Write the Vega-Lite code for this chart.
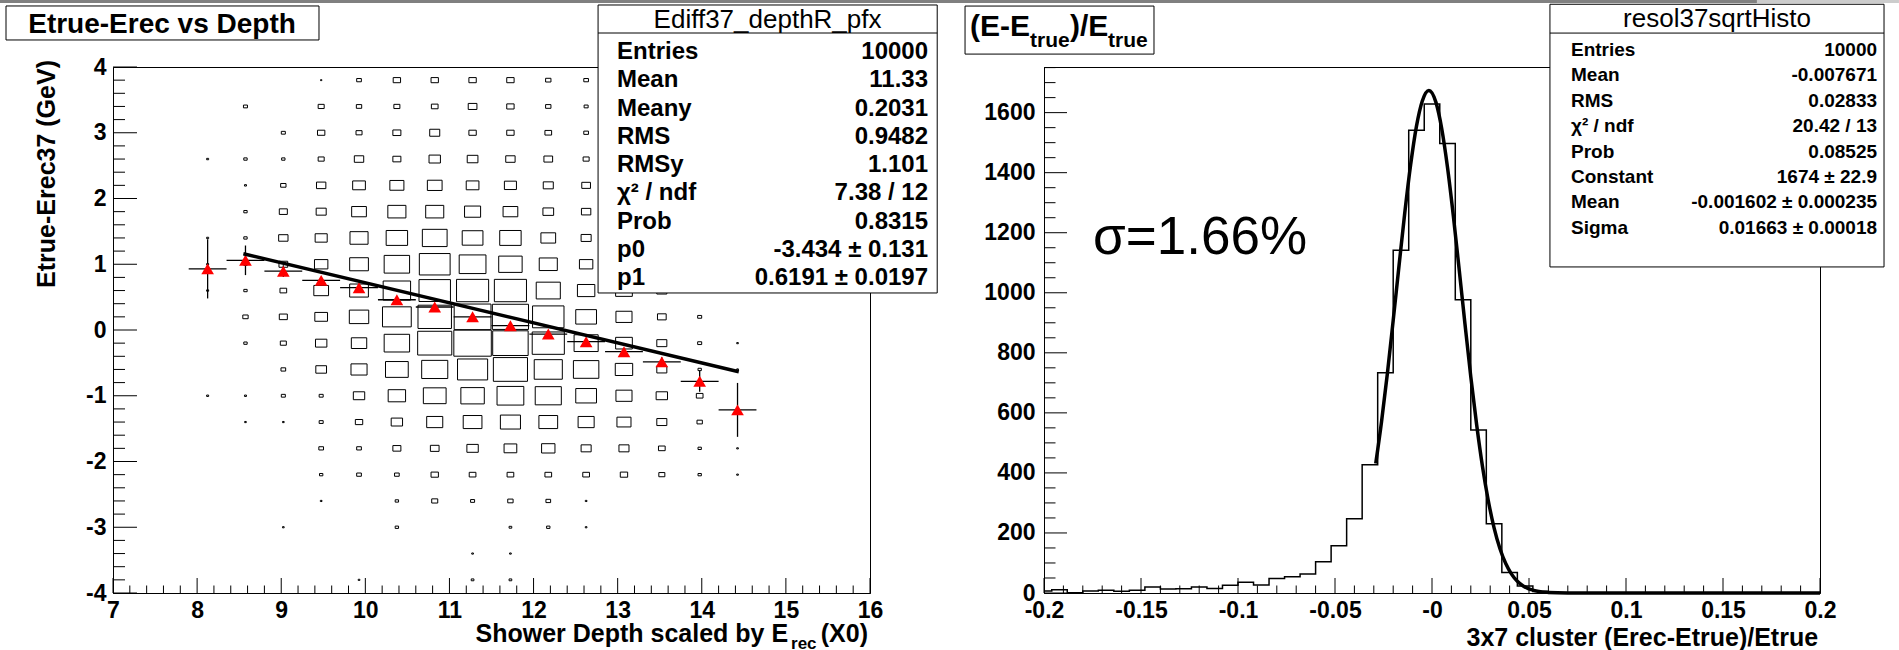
{
  "$schema": "https://vega.github.io/schema/vega-lite/v6.json",
  "autosize": {"type": "none"},
  "padding": {"left": 113, "top": 67, "right": 1786, "bottom": 583},
  "background": "white",
  "bounds": "flush",
  "spacing": 174,
  "config": {
    "view": {"stroke": "#000", "strokeWidth": 1, "fill": "white"},
    "font": "Liberation Sans",
    "axis": {"grid": false, "ticks": false, "domainColor": "#000", "domainWidth": 1, "labelColor": "#000", "labelFont": "Liberation Sans", "labelFontWeight": "bold", "labelFontSize": 23, "labelOverlap": false, "labelFlush": false, "labelBound": false},
    "text": {"font": "Liberation Sans", "fill": "#000"}
  },
  "hconcat": [
    {
      "width": 757, "height": 526,
      "resolve": {"scale": {"y": "independent"}},
      "layer": [
        {
          "layer": [
            {
              "data": {"values": [
                {"x":9.475,"y":3.8,"n":4},{"x":9.925,"y":3.8,"n":14},{"x":10.375,"y":3.8,"n":22},{"x":10.825,"y":3.8,"n":22},{"x":11.275,"y":3.8,"n":22},{"x":11.725,"y":3.8,"n":22},{"x":12.175,"y":3.8,"n":16},{"x":12.625,"y":3.8,"n":14},
                {"x":8.575,"y":3.4,"n":12},{"x":9.475,"y":3.4,"n":18},{"x":9.925,"y":3.4,"n":16},{"x":10.375,"y":3.4,"n":18},{"x":10.825,"y":3.4,"n":20},{"x":11.275,"y":3.4,"n":26},{"x":11.725,"y":3.4,"n":22},{"x":12.175,"y":3.4,"n":16},{"x":12.625,"y":3.4,"n":12},
                {"x":9.025,"y":3.0,"n":12},{"x":9.475,"y":3.0,"n":22},{"x":9.925,"y":3.0,"n":18},{"x":10.375,"y":3.0,"n":24},{"x":10.825,"y":3.0,"n":30},{"x":11.275,"y":3.0,"n":22},{"x":11.725,"y":3.0,"n":22},{"x":12.175,"y":3.0,"n":20},{"x":12.625,"y":3.0,"n":14},
                {"x":8.125,"y":2.6,"n":6},{"x":8.575,"y":2.6,"n":10},{"x":9.025,"y":2.6,"n":10},{"x":9.475,"y":2.6,"n":18},{"x":9.925,"y":2.6,"n":28},{"x":10.375,"y":2.6,"n":24},{"x":10.825,"y":2.6,"n":34},{"x":11.275,"y":2.6,"n":32},{"x":11.725,"y":2.6,"n":28},{"x":12.175,"y":2.6,"n":26},{"x":12.625,"y":2.6,"n":18},
                {"x":8.575,"y":2.2,"n":6},{"x":9.025,"y":2.2,"n":16},{"x":9.475,"y":2.2,"n":28},{"x":9.925,"y":2.2,"n":38},{"x":10.375,"y":2.2,"n":42},{"x":10.825,"y":2.2,"n":44},{"x":11.275,"y":2.2,"n":38},{"x":11.725,"y":2.2,"n":36},{"x":12.175,"y":2.2,"n":30},{"x":12.625,"y":2.2,"n":26},
                {"x":8.575,"y":1.8,"n":10},{"x":9.025,"y":1.8,"n":24},{"x":9.475,"y":1.8,"n":30},{"x":9.925,"y":1.8,"n":44},{"x":10.375,"y":1.8,"n":54},{"x":10.825,"y":1.8,"n":54},{"x":11.275,"y":1.8,"n":48},{"x":11.725,"y":1.8,"n":44},{"x":12.175,"y":1.8,"n":32},{"x":12.625,"y":1.8,"n":28},
                {"x":8.125,"y":1.4,"n":6},{"x":8.575,"y":1.4,"n":10},{"x":9.025,"y":1.4,"n":28},{"x":9.475,"y":1.4,"n":36},{"x":9.925,"y":1.4,"n":54},{"x":10.375,"y":1.4,"n":64},{"x":10.825,"y":1.4,"n":74},{"x":11.275,"y":1.4,"n":62},{"x":11.725,"y":1.4,"n":64},{"x":12.175,"y":1.4,"n":44},{"x":12.625,"y":1.4,"n":30},
                {"x":8.125,"y":1.0,"n":6},{"x":8.575,"y":1.0,"n":10},{"x":9.025,"y":1.0,"n":26},{"x":9.475,"y":1.0,"n":40},{"x":9.925,"y":1.0,"n":56},{"x":10.375,"y":1.0,"n":76},{"x":10.825,"y":1.0,"n":92},{"x":11.275,"y":1.0,"n":80},{"x":11.725,"y":1.0,"n":70},{"x":12.175,"y":1.0,"n":54},{"x":12.625,"y":1.0,"n":40},
                {"x":8.125,"y":0.6,"n":6},{"x":8.575,"y":0.6,"n":10},{"x":9.025,"y":0.6,"n":20},{"x":9.475,"y":0.6,"n":44},{"x":9.925,"y":0.6,"n":56},{"x":10.375,"y":0.6,"n":82},{"x":10.825,"y":0.6,"n":94},{"x":11.275,"y":0.6,"n":96},{"x":11.725,"y":0.6,"n":96},{"x":12.175,"y":0.6,"n":72},{"x":12.625,"y":0.6,"n":52},{"x":13.075,"y":0.6,"n":50},{"x":13.525,"y":0.6,"n":30},{"x":13.975,"y":0.6,"n":12},
                {"x":8.575,"y":0.2,"n":16},{"x":9.025,"y":0.2,"n":24},{"x":9.475,"y":0.2,"n":38},{"x":9.925,"y":0.2,"n":58},{"x":10.375,"y":0.2,"n":86},{"x":10.825,"y":0.2,"n":100},{"x":11.275,"y":0.2,"n":110},{"x":11.725,"y":0.2,"n":108},{"x":12.175,"y":0.2,"n":94},{"x":12.625,"y":0.2,"n":62},{"x":13.075,"y":0.2,"n":48},{"x":13.525,"y":0.2,"n":26},{"x":13.975,"y":0.2,"n":12},
                {"x":8.575,"y":-0.2,"n":10},{"x":9.025,"y":-0.2,"n":18},{"x":9.475,"y":-0.2,"n":34},{"x":9.925,"y":-0.2,"n":46},{"x":10.375,"y":-0.2,"n":76},{"x":10.825,"y":-0.2,"n":102},{"x":11.275,"y":-0.2,"n":112},{"x":11.725,"y":-0.2,"n":106},{"x":12.175,"y":-0.2,"n":96},{"x":12.625,"y":-0.2,"n":72},{"x":13.075,"y":-0.2,"n":50},{"x":13.525,"y":-0.2,"n":30},{"x":13.975,"y":-0.2,"n":12},{"x":14.425,"y":-0.2,"n":5},
                {"x":9.025,"y":-0.6,"n":14},{"x":9.475,"y":-0.6,"n":32},{"x":9.925,"y":-0.6,"n":48},{"x":10.375,"y":-0.6,"n":68},{"x":10.825,"y":-0.6,"n":78},{"x":11.275,"y":-0.6,"n":90},{"x":11.725,"y":-0.6,"n":102},{"x":12.175,"y":-0.6,"n":84},{"x":12.625,"y":-0.6,"n":76},{"x":13.075,"y":-0.6,"n":52},{"x":13.525,"y":-0.6,"n":30},{"x":13.975,"y":-0.6,"n":10},{"x":14.425,"y":-0.6,"n":5},
                {"x":8.125,"y":-1.0,"n":6},{"x":8.575,"y":-1.0,"n":6},{"x":9.025,"y":-1.0,"n":12},{"x":9.475,"y":-1.0,"n":12},{"x":9.925,"y":-1.0,"n":34},{"x":10.375,"y":-1.0,"n":52},{"x":10.825,"y":-1.0,"n":68},{"x":11.275,"y":-1.0,"n":70},{"x":11.725,"y":-1.0,"n":80},{"x":12.175,"y":-1.0,"n":78},{"x":12.625,"y":-1.0,"n":62},{"x":13.075,"y":-1.0,"n":48},{"x":13.525,"y":-1.0,"n":34},{"x":13.975,"y":-1.0,"n":20},
                {"x":8.575,"y":-1.4,"n":5},{"x":9.025,"y":-1.4,"n":5},{"x":9.475,"y":-1.4,"n":12},{"x":9.925,"y":-1.4,"n":22},{"x":10.375,"y":-1.4,"n":34},{"x":10.825,"y":-1.4,"n":48},{"x":11.275,"y":-1.4,"n":56},{"x":11.725,"y":-1.4,"n":60},{"x":12.175,"y":-1.4,"n":56},{"x":12.625,"y":-1.4,"n":48},{"x":13.075,"y":-1.4,"n":42},{"x":13.525,"y":-1.4,"n":30},{"x":13.975,"y":-1.4,"n":16},
                {"x":9.475,"y":-1.8,"n":14},{"x":9.925,"y":-1.8,"n":14},{"x":10.375,"y":-1.8,"n":24},{"x":10.825,"y":-1.8,"n":26},{"x":11.275,"y":-1.8,"n":34},{"x":11.725,"y":-1.8,"n":38},{"x":12.175,"y":-1.8,"n":40},{"x":12.625,"y":-1.8,"n":30},{"x":13.075,"y":-1.8,"n":30},{"x":13.525,"y":-1.8,"n":20},{"x":13.975,"y":-1.8,"n":10},{"x":14.425,"y":-1.8,"n":5},
                {"x":9.475,"y":-2.2,"n":10},{"x":9.925,"y":-2.2,"n":14},{"x":10.375,"y":-2.2,"n":14},{"x":10.825,"y":-2.2,"n":22},{"x":11.275,"y":-2.2,"n":20},{"x":11.725,"y":-2.2,"n":20},{"x":12.175,"y":-2.2,"n":20},{"x":12.625,"y":-2.2,"n":20},{"x":13.075,"y":-2.2,"n":22},{"x":13.525,"y":-2.2,"n":18},{"x":13.975,"y":-2.2,"n":10},{"x":14.425,"y":-2.2,"n":5},
                {"x":9.475,"y":-2.6,"n":5},{"x":10.375,"y":-2.6,"n":10},{"x":10.825,"y":-2.6,"n":18},{"x":11.275,"y":-2.6,"n":12},{"x":11.725,"y":-2.6,"n":16},{"x":12.175,"y":-2.6,"n":14},{"x":12.625,"y":-2.6,"n":5},
                {"x":9.025,"y":-3.0,"n":5},{"x":10.375,"y":-3.0,"n":10},{"x":11.725,"y":-3.0,"n":8},{"x":12.175,"y":-3.0,"n":10},{"x":12.625,"y":-3.0,"n":5},
                {"x":11.275,"y":-3.4,"n":5},{"x":11.725,"y":-3.4,"n":5},
                {"x":9.925,"y":-3.8,"n":5},{"x":11.275,"y":-3.8,"n":8},{"x":11.725,"y":-3.8,"n":8}
              ]},
              "mark": {"type": "point", "shape": "M-1,-0.696H1V0.696H-1Z", "filled": false, "stroke": "#000", "strokeWidth": 1, "opacity": 1},
              "encoding": {
                "x": {"field": "x", "type": "quantitative", "scale": {"domain": [7, 16], "nice": false, "zero": false},
                  "axis": {"title": null, "values": [7,8,9,10,11,12,13,14,15,16], "labelExpr": "''+datum.value", "labelPadding": 6, "labelOverlap": false}},
                "y": {"field": "y", "type": "quantitative", "scale": {"domain": [-4, 4], "nice": false, "zero": false},
                  "axis": {"title": null, "values": [-4,-3,-2,-1,0,1,2,3,4], "labelExpr": "''+datum.value", "labelPadding": 7, "labelOverlap": false}},
                "size": {"field": "n", "type": "quantitative", "scale": {"type": "pow", "exponent": 2, "domain": [0, 113], "range": [0, 1429]}, "legend": null}
              }
            },
            {
              "data": {"values": [{"t":7},{"t":8},{"t":9},{"t":10},{"t":11},{"t":12},{"t":13},{"t":14},{"t":15},{"t":16}]},
              "mark": {"type": "rule", "stroke": "#000", "strokeWidth": 1},
              "encoding": {"x": {"field": "t", "type": "quantitative", "scale": {"domain": [7, 16], "nice": false, "zero": false}}, "y": {"datum": -4, "type": "quantitative", "scale": {"domain": [-4, 4], "nice": false, "zero": false}}, "y2": {"datum": -3.772}}
            },
            {
              "data": {"values": [{"t":7.2},{"t":7.4},{"t":7.6},{"t":7.8},{"t":8.2},{"t":8.4},{"t":8.6},{"t":8.8},{"t":9.2},{"t":9.4},{"t":9.6},{"t":9.8},{"t":10.2},{"t":10.4},{"t":10.6},{"t":10.8},{"t":11.2},{"t":11.4},{"t":11.6},{"t":11.8},{"t":12.2},{"t":12.4},{"t":12.6},{"t":12.8},{"t":13.2},{"t":13.4},{"t":13.6},{"t":13.8},{"t":14.2},{"t":14.4},{"t":14.6},{"t":14.8},{"t":15.2},{"t":15.4},{"t":15.6},{"t":15.8}]},
              "mark": {"type": "rule", "stroke": "#000", "strokeWidth": 1},
              "encoding": {"x": {"field": "t", "type": "quantitative", "scale": {"domain": [7, 16], "nice": false, "zero": false}}, "y": {"datum": -4, "type": "quantitative", "scale": {"domain": [-4, 4], "nice": false, "zero": false}}, "y2": {"datum": -3.886}}
            },
            {
              "data": {"values": [{"t":-4},{"t":-3},{"t":-2},{"t":-1},{"t":0},{"t":1},{"t":2},{"t":3},{"t":4}]},
              "mark": {"type": "rule", "stroke": "#000", "strokeWidth": 1},
              "encoding": {"y": {"field": "t", "type": "quantitative", "scale": {"domain": [-4, 4], "nice": false, "zero": false}}, "x": {"datum": 7, "type": "quantitative", "scale": {"domain": [7, 16], "nice": false, "zero": false}}, "x2": {"datum": 7.2853}}
            },
            {
              "data": {"values": [{"t":-3.8},{"t":-3.6},{"t":-3.4},{"t":-3.2},{"t":-2.8},{"t":-2.6},{"t":-2.4},{"t":-2.2},{"t":-1.8},{"t":-1.6},{"t":-1.4},{"t":-1.2},{"t":-0.8},{"t":-0.6},{"t":-0.4},{"t":-0.2},{"t":0.2},{"t":0.4},{"t":0.6},{"t":0.8},{"t":1.2},{"t":1.4},{"t":1.6},{"t":1.8},{"t":2.2},{"t":2.4},{"t":2.6},{"t":2.8},{"t":3.2},{"t":3.4},{"t":3.6},{"t":3.8}]},
              "mark": {"type": "rule", "stroke": "#000", "strokeWidth": 1},
              "encoding": {"y": {"field": "t", "type": "quantitative", "scale": {"domain": [-4, 4], "nice": false, "zero": false}}, "x": {"datum": 7, "type": "quantitative", "scale": {"domain": [7, 16], "nice": false, "zero": false}}, "x2": {"datum": 7.1427}}
            },
            {
              "data": {"values": [
                {"x":8.125,"y":0.93,"xlo":7.9,"xhi":8.35,"ylo":0.48,"yhi":1.38},
                {"x":8.575,"y":1.06,"xlo":8.35,"xhi":8.8,"ylo":0.835,"yhi":1.285},
                {"x":9.025,"y":0.895,"xlo":8.8,"xhi":9.25,"ylo":0.805,"yhi":0.985},
                {"x":9.475,"y":0.755,"xlo":9.25,"xhi":9.7,"ylo":0.705,"yhi":0.805},
                {"x":9.925,"y":0.643,"xlo":9.7,"xhi":10.15,"ylo":0.603,"yhi":0.683},
                {"x":10.375,"y":0.46,"xlo":10.15,"xhi":10.6,"ylo":0.43,"yhi":0.49},
                {"x":10.825,"y":0.35,"xlo":10.6,"xhi":11.05,"ylo":0.32,"yhi":0.38},
                {"x":11.275,"y":0.2,"xlo":11.05,"xhi":11.5,"ylo":0.17,"yhi":0.23},
                {"x":11.725,"y":0.066,"xlo":11.5,"xhi":11.95,"ylo":0.036,"yhi":0.096},
                {"x":12.175,"y":-0.062,"xlo":11.95,"xhi":12.4,"ylo":-0.092,"yhi":-0.032},
                {"x":12.625,"y":-0.178,"xlo":12.4,"xhi":12.85,"ylo":-0.218,"yhi":-0.138},
                {"x":13.075,"y":-0.33,"xlo":12.85,"xhi":13.3,"ylo":-0.38,"yhi":-0.28},
                {"x":13.525,"y":-0.485,"xlo":13.3,"xhi":13.75,"ylo":-0.555,"yhi":-0.415},
                {"x":13.975,"y":-0.78,"xlo":13.75,"xhi":14.2,"ylo":-0.94,"yhi":-0.62},
                {"x":14.425,"y":-1.215,"xlo":14.2,"xhi":14.65,"ylo":-1.625,"yhi":-0.805}
              ]},
              "layer": [
                {"mark": {"type": "rule", "stroke": "#000", "strokeWidth": 1.3},
                 "encoding": {"x": {"field": "xlo", "type": "quantitative", "scale": {"domain": [7, 16], "nice": false, "zero": false}}, "x2": {"field": "xhi"}, "y": {"field": "y", "type": "quantitative", "scale": {"domain": [-4, 4], "nice": false, "zero": false}}}},
                {"mark": {"type": "rule", "stroke": "#000", "strokeWidth": 1.3},
                 "encoding": {"x": {"field": "x", "type": "quantitative", "scale": {"domain": [7, 16], "nice": false, "zero": false}}, "y": {"field": "ylo", "type": "quantitative", "scale": {"domain": [-4, 4], "nice": false, "zero": false}}, "y2": {"field": "yhi"}}},
                {"mark": {"type": "point", "shape": "triangle-up", "filled": true, "fill": "#ff0000", "strokeWidth": 0, "size": 160, "opacity": 1},
                 "encoding": {"x": {"field": "x", "type": "quantitative", "scale": {"domain": [7, 16], "nice": false, "zero": false}}, "y": {"field": "y", "type": "quantitative", "scale": {"domain": [-4, 4], "nice": false, "zero": false}}}}
              ]
            },
            {
              "data": {"values": [{"x": 8.55, "y": 1.16}, {"x": 14.44, "y": -0.635}]},
              "mark": {"type": "line", "stroke": "#000", "strokeWidth": 3.5},
              "encoding": {"x": {"field": "x", "type": "quantitative", "scale": {"domain": [7, 16], "nice": false, "zero": false}}, "y": {"field": "y", "type": "quantitative", "scale": {"domain": [-4, 4], "nice": false, "zero": false}}}
            },
            {
              "data": {"values": [{}]},
              "layer": [
                {"mark": {"type": "rect", "fill": "#808080", "strokeWidth": 0},
                 "encoding": {"x": {"datum": 5.6565, "type": "quantitative", "scale": {"domain": [7, 16], "nice": false, "zero": false}}, "x2": {"datum": 16.844}, "y": {"datum": 5.019, "type": "quantitative", "scale": {"domain": [-4, 4], "nice": false, "zero": false}}, "y2": {"datum": 4.973}}},
                {"mark": {"type": "rect", "fill": "#fff", "stroke": "#000", "strokeWidth": 1},
                 "encoding": {"x": {"datum": 12.767, "type": "quantitative"}, "x2": {"datum": 16.799}, "y": {"datum": 4.943, "type": "quantitative"}, "y2": {"datum": 0.563}}},
                {"mark": {"type": "rule", "stroke": "#000", "strokeWidth": 1},
                 "encoding": {"x": {"datum": 12.767, "type": "quantitative"}, "x2": {"datum": 16.799}, "y": {"datum": 4.517, "type": "quantitative"}}},
                {"mark": {"type": "text", "text": "Ediff37_depthR_pfx", "fontSize": 26, "align": "center", "baseline": "alphabetic"},
                 "encoding": {"x": {"datum": 14.782, "type": "quantitative"}, "y": {"datum": 4.593, "type": "quantitative"}}},
                {"mark": {"type": "rect", "fill": "#fff", "stroke": "#000", "strokeWidth": 1},
                 "encoding": {"x": {"datum": 5.728, "type": "quantitative"}, "x2": {"datum": 9.449}, "y": {"datum": 4.928, "type": "quantitative"}, "y2": {"datum": 4.411}}},
                {"mark": {"type": "text", "text": "Etrue-Erec vs Depth", "fontSize": 28, "fontWeight": "bold", "align": "center", "baseline": "alphabetic"},
                 "encoding": {"x": {"datum": 7.583, "type": "quantitative"}, "y": {"datum": 4.517, "type": "quantitative"}}},
                {"mark": {"type": "text", "text": "Shower Depth scaled by E", "fontSize": 25, "fontWeight": "bold", "align": "right", "baseline": "alphabetic"},
                 "encoding": {"x": {"datum": 15.026, "type": "quantitative"}, "y": {"datum": -4.74, "type": "quantitative"}}},
                {"mark": {"type": "text", "text": "rec", "fontSize": 17, "fontWeight": "bold", "align": "left", "baseline": "alphabetic"},
                 "encoding": {"x": {"datum": 15.061, "type": "quantitative"}, "y": {"datum": -4.855, "type": "quantitative"}}},
                {"mark": {"type": "text", "text": "(X0)", "fontSize": 25, "fontWeight": "bold", "align": "right", "baseline": "alphabetic"},
                 "encoding": {"x": {"datum": 15.976, "type": "quantitative"}, "y": {"datum": -4.74, "type": "quantitative"}}},
                {"mark": {"type": "text", "text": "Etrue-Erec37 (GeV)", "fontSize": 25, "fontWeight": "bold", "align": "right", "baseline": "alphabetic", "angle": 270},
                 "encoding": {"x": {"datum": 6.31, "type": "quantitative"}, "y": {"datum": 4.106, "type": "quantitative"}}}
              ]
            }
          ]
        },
        {
          "data": {"values": [
            {"i": 0, "label": "Entries", "value": "10000"},
            {"i": 1, "label": "Mean", "value": "11.33"},
            {"i": 2, "label": "Meany", "value": "0.2031"},
            {"i": 3, "label": "RMS", "value": "0.9482"},
            {"i": 4, "label": "RMSy", "value": "1.101"},
            {"i": 5, "label": "χ² / ndf", "value": "7.38 / 12"},
            {"i": 6, "label": "Prob", "value": "0.8315"},
            {"i": 7, "label": "p0", "value": "-3.434 ± 0.131"},
            {"i": 8, "label": "p1", "value": "0.6191 ± 0.0197"}
          ]},
          "layer": [
            {"mark": {"type": "text", "fontSize": 24, "fontWeight": "bold", "align": "left", "baseline": "middle"},
             "encoding": {"x": {"datum": 12.992, "type": "quantitative", "scale": {"domain": [7, 16], "nice": false, "zero": false}}, "y": {"field": "i", "type": "quantitative", "scale": {"domain": [0.531, 19.15], "reverse": true, "nice": false, "zero": false}, "axis": null}, "text": {"field": "label"}}},
            {"mark": {"type": "text", "fontSize": 24, "fontWeight": "bold", "align": "right", "baseline": "middle"},
             "encoding": {"x": {"datum": 16.69, "type": "quantitative"}, "y": {"field": "i", "type": "quantitative"}, "text": {"field": "value"}}}
          ]
        }
      ]
    },
    {
      "width": 776, "height": 526,
      "resolve": {"scale": {"y": "independent"}},
      "layer": [
        {
          "layer": [
            {
              "data": {"values": [
                {"x":-0.2,"c":7},{"x":-0.196,"c":11},{"x":-0.188,"c":1},{"x":-0.18,"c":7},{"x":-0.172,"c":9},{"x":-0.164,"c":6},{"x":-0.156,"c":9},{"x":-0.148,"c":20},{"x":-0.14,"c":13},{"x":-0.132,"c":14},{"x":-0.124,"c":20},{"x":-0.116,"c":15},{"x":-0.108,"c":26},{"x":-0.1,"c":36},{"x":-0.092,"c":27},{"x":-0.084,"c":48},{"x":-0.076,"c":54},{"x":-0.068,"c":63},{"x":-0.06,"c":104},{"x":-0.052,"c":157},{"x":-0.044,"c":247},{"x":-0.036,"c":427},{"x":-0.028,"c":734},{"x":-0.02,"c":1142},{"x":-0.012,"c":1541},{"x":-0.004,"c":1629},{"x":0.004,"c":1497},{"x":0.012,"c":977},{"x":0.02,"c":543},{"x":0.028,"c":231},{"x":0.036,"c":68},{"x":0.044,"c":23},{"x":0.052,"c":5},{"x":0.06,"c":1},{"x":0.068,"c":0},{"x":0.076,"c":0},{"x":0.084,"c":0},{"x":0.092,"c":0},{"x":0.1,"c":0},{"x":0.108,"c":0},{"x":0.116,"c":0},{"x":0.124,"c":0},{"x":0.132,"c":0},{"x":0.14,"c":0},{"x":0.148,"c":0},{"x":0.156,"c":0},{"x":0.164,"c":0},{"x":0.172,"c":0},{"x":0.18,"c":0},{"x":0.188,"c":0},{"x":0.196,"c":0},{"x":0.2,"c":0}
              ]},
              "mark": {"type": "line", "interpolate": "step-after", "stroke": "#000", "strokeWidth": 1.5},
              "encoding": {
                "x": {"field": "x", "type": "quantitative", "scale": {"domain": [-0.2, 0.2], "nice": false, "zero": false},
                  "axis": {"title": null, "values": [-0.2,-0.15,-0.1,-0.05,0,0.05,0.1,0.15,0.2], "labelExpr": "abs(datum.value)<0.0001 ? '-0' : ''+datum.value", "labelPadding": 6, "labelOverlap": false}},
                "y": {"field": "c", "type": "quantitative", "scale": {"domain": [0, 1752], "nice": false, "zero": false},
                  "axis": {"title": null, "values": [0,200,400,600,800,1000,1200,1400,1600], "labelExpr": "''+datum.value", "labelPadding": 9, "labelOverlap": false}}
              }
            },
            {
              "data": {"values": [{"t":-0.2},{"t":-0.15},{"t":-0.1},{"t":-0.05},{"t":0},{"t":0.05},{"t":0.1},{"t":0.15},{"t":0.2}]},
              "mark": {"type": "rule", "stroke": "#000", "strokeWidth": 1},
              "encoding": {"x": {"field": "t", "type": "quantitative", "scale": {"domain": [-0.2, 0.2], "nice": false, "zero": false}}, "y": {"datum": 0, "type": "quantitative", "scale": {"domain": [0, 1752], "nice": false, "zero": false}}, "y2": {"datum": 50}}
            },
            {
              "data": {"values": [{"t":-0.19},{"t":-0.18},{"t":-0.17},{"t":-0.16},{"t":-0.14},{"t":-0.13},{"t":-0.12},{"t":-0.11},{"t":-0.09},{"t":-0.08},{"t":-0.07},{"t":-0.06},{"t":-0.04},{"t":-0.03},{"t":-0.02},{"t":-0.01},{"t":0.01},{"t":0.02},{"t":0.03},{"t":0.04},{"t":0.06},{"t":0.07},{"t":0.08},{"t":0.09},{"t":0.11},{"t":0.12},{"t":0.13},{"t":0.14},{"t":0.16},{"t":0.17},{"t":0.18},{"t":0.19}]},
              "mark": {"type": "rule", "stroke": "#000", "strokeWidth": 1},
              "encoding": {"x": {"field": "t", "type": "quantitative", "scale": {"domain": [-0.2, 0.2], "nice": false, "zero": false}}, "y": {"datum": 0, "type": "quantitative", "scale": {"domain": [0, 1752], "nice": false, "zero": false}}, "y2": {"datum": 25}}
            },
            {
              "data": {"values": [{"t":0},{"t":200},{"t":400},{"t":600},{"t":800},{"t":1000},{"t":1200},{"t":1400},{"t":1600}]},
              "mark": {"type": "rule", "stroke": "#000", "strokeWidth": 1},
              "encoding": {"y": {"field": "t", "type": "quantitative", "scale": {"domain": [0, 1752], "nice": false, "zero": false}}, "x": {"datum": -0.2, "type": "quantitative", "scale": {"domain": [-0.2, 0.2], "nice": false, "zero": false}}, "x2": {"datum": -0.18814}}
            },
            {
              "data": {"values": [{"t":50},{"t":100},{"t":150},{"t":250},{"t":300},{"t":350},{"t":450},{"t":500},{"t":550},{"t":650},{"t":700},{"t":750},{"t":850},{"t":900},{"t":950},{"t":1050},{"t":1100},{"t":1150},{"t":1250},{"t":1300},{"t":1350},{"t":1450},{"t":1500},{"t":1550},{"t":1650},{"t":1700},{"t":1750}]},
              "mark": {"type": "rule", "stroke": "#000", "strokeWidth": 1},
              "encoding": {"y": {"field": "t", "type": "quantitative", "scale": {"domain": [0, 1752], "nice": false, "zero": false}}, "x": {"datum": -0.2, "type": "quantitative", "scale": {"domain": [-0.2, 0.2], "nice": false, "zero": false}}, "x2": {"datum": -0.19407}}
            },
            {
              "data": {"values": [
                {"x":-0.029,"g":431},{"x":-0.026,"g":571},{"x":-0.023,"g":731},{"x":-0.02,"g":908},{"x":-0.017,"g":1090},{"x":-0.014,"g":1268},{"x":-0.011,"g":1427},{"x":-0.008,"g":1555},{"x":-0.005,"g":1639},{"x":-0.0016,"g":1674},{"x":0.002,"g":1635},{"x":0.005,"g":1547},{"x":0.008,"g":1417},{"x":0.011,"g":1256},{"x":0.014,"g":1078},{"x":0.017,"g":896},{"x":0.02,"g":720},{"x":0.023,"g":561},{"x":0.026,"g":422},{"x":0.029,"g":308},{"x":0.032,"g":217},{"x":0.035,"g":148},{"x":0.038,"g":98},{"x":0.041,"g":63},{"x":0.044,"g":39},{"x":0.047,"g":23},{"x":0.05,"g":14},{"x":0.055,"g":5},{"x":0.06,"g":2},{"x":0.07,"g":0.2},{"x":0.08,"g":0},{"x":0.2,"g":0}
              ]},
              "mark": {"type": "line", "interpolate": "monotone", "stroke": "#000", "strokeWidth": 3.5},
              "encoding": {"x": {"field": "x", "type": "quantitative", "scale": {"domain": [-0.2, 0.2], "nice": false, "zero": false}}, "y": {"field": "g", "type": "quantitative", "scale": {"domain": [0, 1752], "nice": false, "zero": false}}}
            },
            {
              "data": {"values": [{}]},
              "layer": [
                {"mark": {"type": "rect", "fill": "#808080", "strokeWidth": 0},
                 "encoding": {"x": {"datum": -0.2531, "type": "quantitative", "scale": {"domain": [-0.2, 0.2], "nice": false, "zero": false}}, "x2": {"datum": 0.1675}, "y": {"datum": 1975, "type": "quantitative", "scale": {"domain": [0, 1752], "nice": false, "zero": false}}, "y2": {"datum": 1965}}},
                {"mark": {"type": "rect", "fill": "#cccccc", "strokeWidth": 0},
                 "encoding": {"x": {"datum": 0.1675, "type": "quantitative"}, "x2": {"datum": 0.2407}, "y": {"datum": 1975, "type": "quantitative"}, "y2": {"datum": 1965}}},
                {"mark": {"type": "text", "text": "σ=1.66%", "fontSize": 53, "align": "left", "baseline": "alphabetic"},
                 "encoding": {"x": {"datum": -0.1747, "type": "quantitative"}, "y": {"datum": 1129, "type": "quantitative"}}},
                {"mark": {"type": "rect", "fill": "#fff", "stroke": "#000", "strokeWidth": 1},
                 "encoding": {"x": {"datum": 0.0608, "type": "quantitative"}, "x2": {"datum": 0.233}, "y": {"datum": 1961, "type": "quantitative"}, "y2": {"datum": 1086}}},
                {"mark": {"type": "rule", "stroke": "#000", "strokeWidth": 1},
                 "encoding": {"x": {"datum": 0.0608, "type": "quantitative"}, "x2": {"datum": 0.233}, "y": {"datum": 1865, "type": "quantitative"}}},
                {"mark": {"type": "text", "text": "resol37sqrtHisto", "fontSize": 26, "align": "center", "baseline": "alphabetic"},
                 "encoding": {"x": {"datum": 0.1469, "type": "quantitative"}, "y": {"datum": 1885, "type": "quantitative"}}},
                {"mark": {"type": "rect", "fill": "#fff", "stroke": "#000", "strokeWidth": 1},
                 "encoding": {"x": {"datum": -0.2407, "type": "quantitative"}, "x2": {"datum": -0.1433}, "y": {"datum": 1955, "type": "quantitative"}, "y2": {"datum": 1795}}},
                {"mark": {"type": "text", "text": "(E-E", "fontSize": 30, "fontWeight": "bold", "align": "left", "baseline": "alphabetic"},
                 "encoding": {"x": {"datum": -0.2381, "type": "quantitative"}, "y": {"datum": 1855, "type": "quantitative"}}},
                {"mark": {"type": "text", "text": "true", "fontSize": 21, "fontWeight": "bold", "align": "left", "baseline": "alphabetic"},
                 "encoding": {"x": {"datum": -0.2072, "type": "quantitative"}, "y": {"datum": 1818, "type": "quantitative"}}},
                {"mark": {"type": "text", "text": ")/E", "fontSize": 30, "fontWeight": "bold", "align": "left", "baseline": "alphabetic"},
                 "encoding": {"x": {"datum": -0.1866, "type": "quantitative"}, "y": {"datum": 1855, "type": "quantitative"}}},
                {"mark": {"type": "text", "text": "true", "fontSize": 21, "fontWeight": "bold", "align": "left", "baseline": "alphabetic"},
                 "encoding": {"x": {"datum": -0.167, "type": "quantitative"}, "y": {"datum": 1818, "type": "quantitative"}}},
                {"mark": {"type": "text", "text": "3x7 cluster (Erec-Etrue)/Etrue", "fontSize": 25, "fontWeight": "bold", "align": "right", "baseline": "alphabetic"},
                 "encoding": {"x": {"datum": 0.199, "type": "quantitative"}, "y": {"datum": -175, "type": "quantitative"}}}
              ]
            }
          ]
        },
        {
          "data": {"values": [
            {"i": 0, "label": "Entries", "value": "10000"},
            {"i": 1, "label": "Mean", "value": "-0.007671"},
            {"i": 2, "label": "RMS", "value": "0.02833"},
            {"i": 3, "label": "χ² / ndf", "value": "20.42 / 13"},
            {"i": 4, "label": "Prob", "value": "0.08525"},
            {"i": 5, "label": "Constant", "value": "1674 ± 22.9"},
            {"i": 6, "label": "Mean", "value": "-0.001602 ± 0.000235"},
            {"i": 7, "label": "Sigma", "value": "0.01663 ± 0.00018"}
          ]},
          "layer": [
            {"mark": {"type": "text", "fontSize": 19, "fontWeight": "bold", "align": "left", "baseline": "middle"},
             "encoding": {"x": {"datum": 0.07165, "type": "quantitative", "scale": {"domain": [-0.2, 0.2], "nice": false, "zero": false}}, "y": {"field": "i", "type": "quantitative", "scale": {"domain": [0.669, 21.378], "reverse": true, "nice": false, "zero": false}, "axis": null}, "text": {"field": "label"}}},
            {"mark": {"type": "text", "fontSize": 19, "fontWeight": "bold", "align": "right", "baseline": "middle"},
             "encoding": {"x": {"datum": 0.2294, "type": "quantitative"}, "y": {"field": "i", "type": "quantitative"}, "text": {"field": "value"}}}
          ]
        }
      ]
    }
  ]
}
